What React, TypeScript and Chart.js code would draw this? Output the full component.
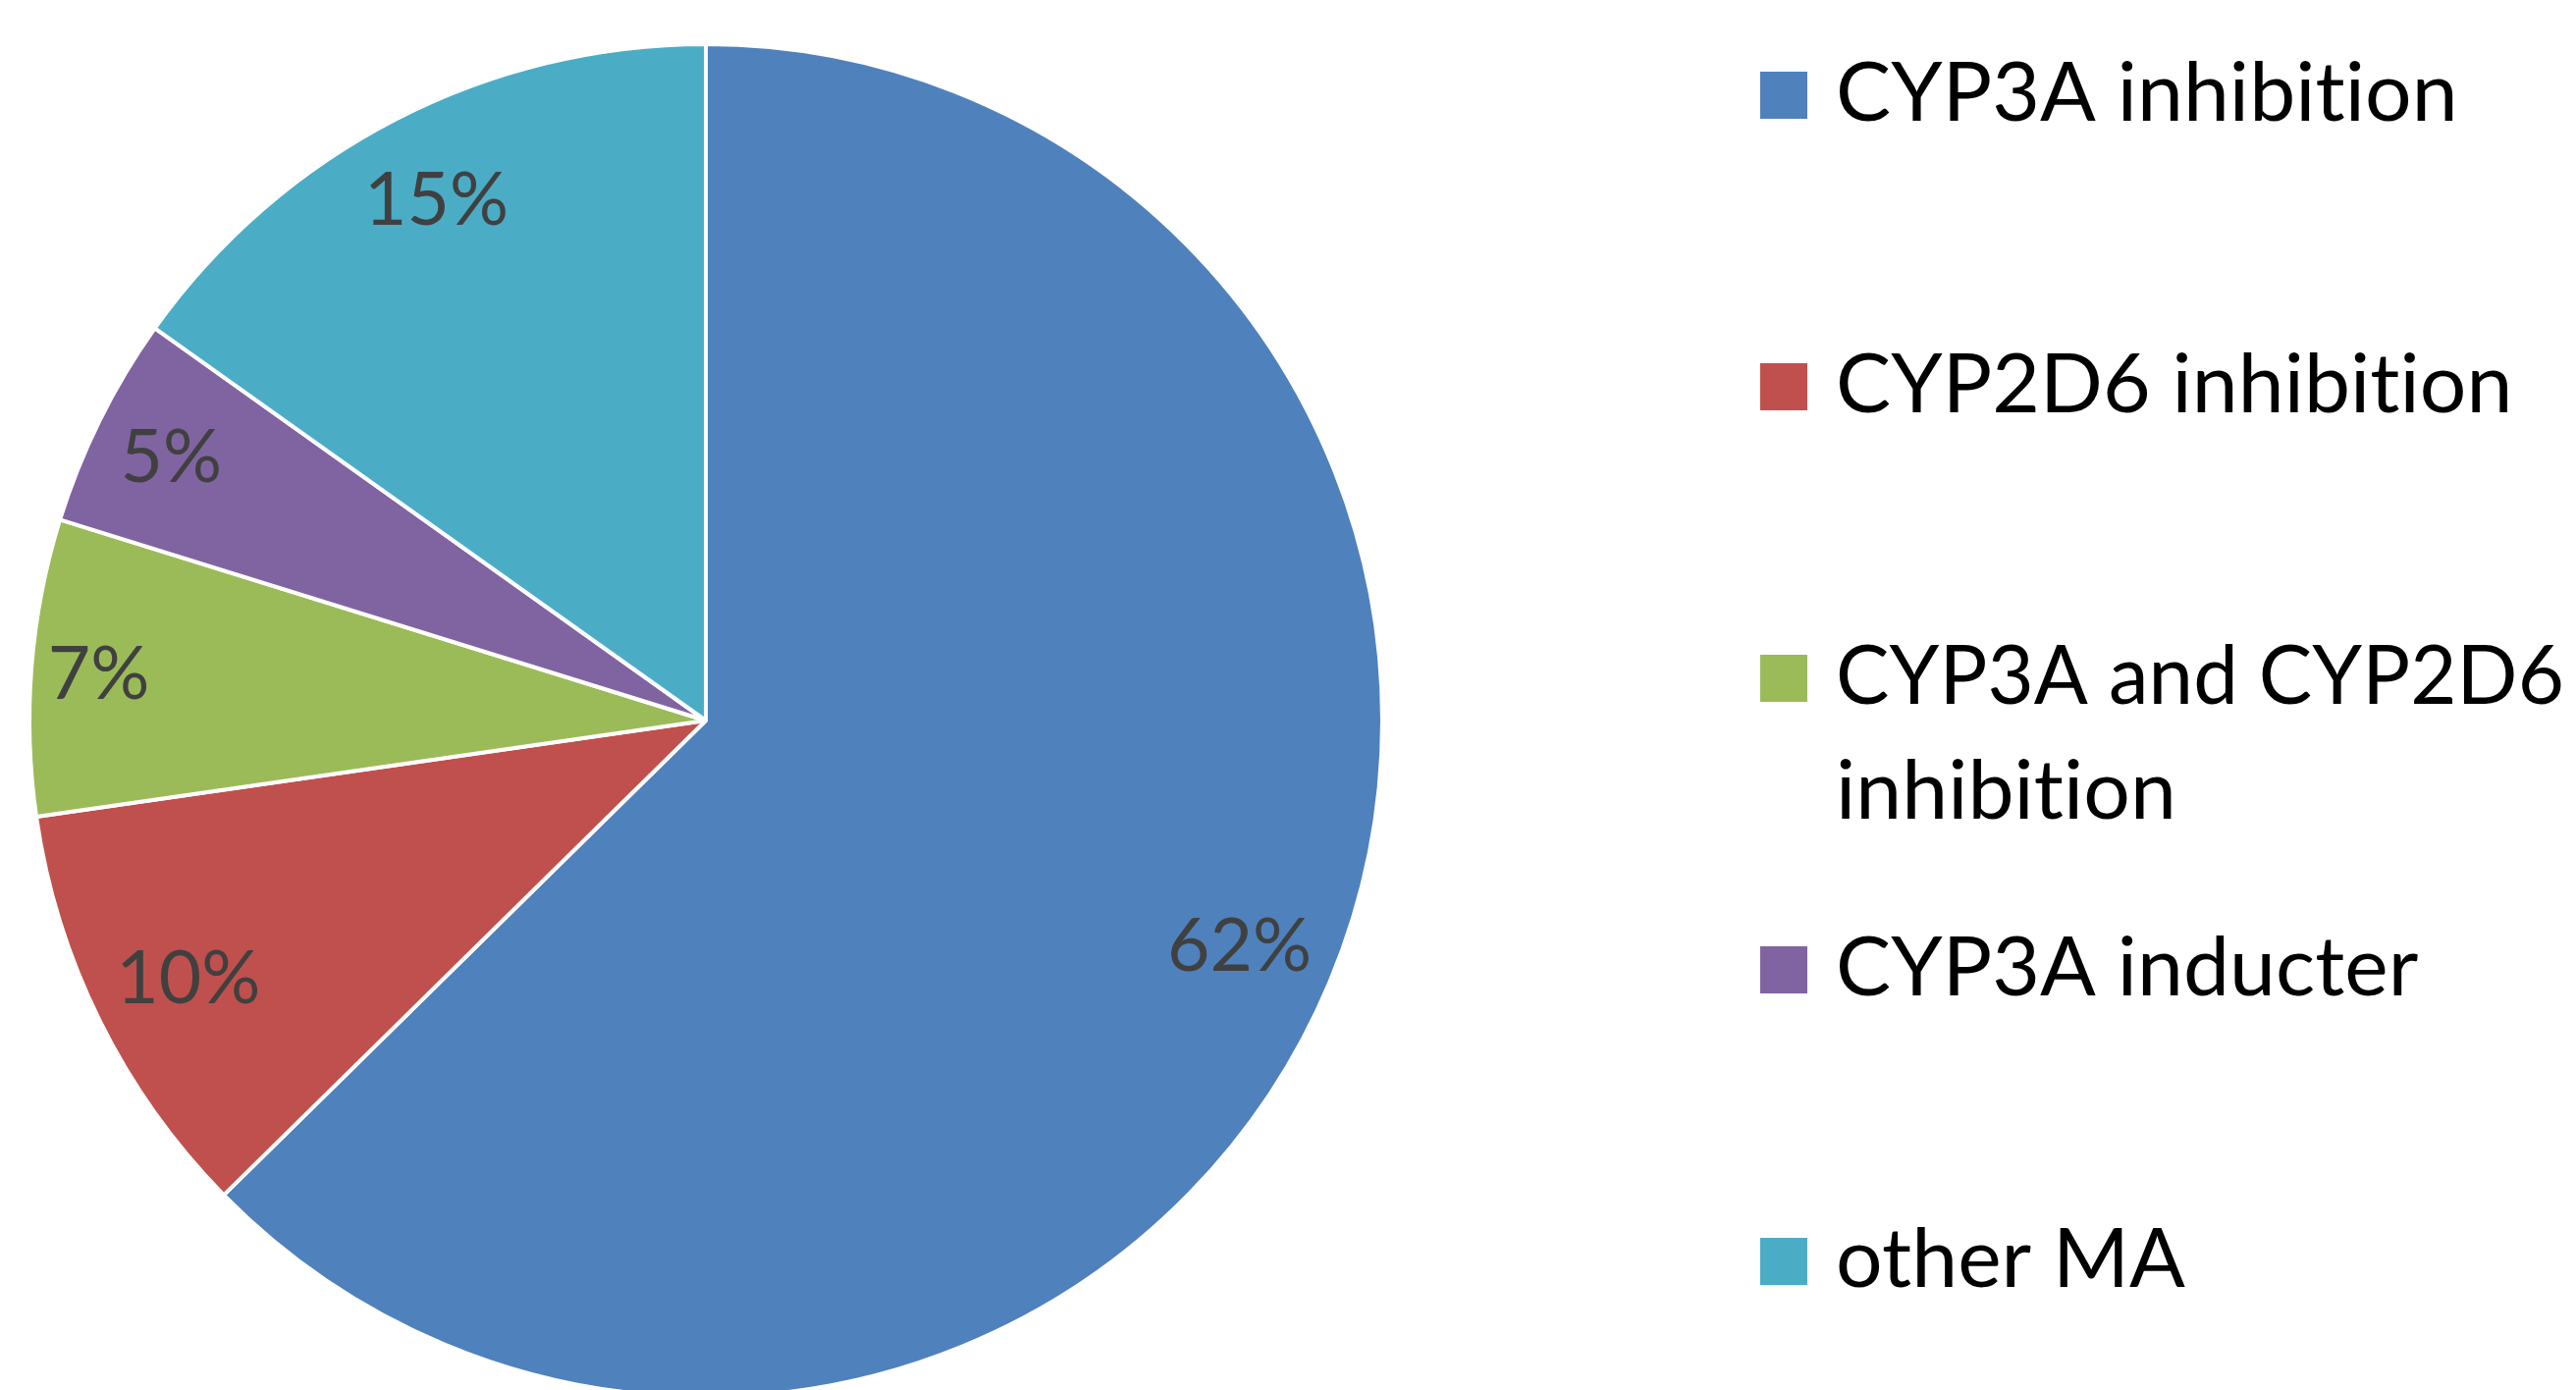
import React, { useEffect, useRef } from 'react';
import { Chart, registerables } from 'chart.js';

Chart.register(...registerables);

const categories = [
  'CYP3A inhibition',
  'CYP2D6 inhibition',
  'CYP3A and CYP2D6 inhibition',
  'CYP3A inducter',
  'other MA',
];
const shares = [62, 10, 7, 5, 15];
const colors = ['#4F81BD', '#C0504D', '#9BBB59', '#8064A2', '#4BACC6'];

const W = 2624;
const H = 1416;
const FONT = 'Lato, "Open Sans", sans-serif';
const LABEL_SIZE = 75;
const LEGEND_SIZE = 84;

export default function App() {
  const ref = useRef<HTMLCanvasElement>(null);

  useEffect(() => {
    document.body.style.margin = '0';
    document.body.style.overflow = 'hidden';
    const canvas = ref.current;
    if (!canvas) return;

    const labelPlugin = {
      id: 'pieLabels',
      afterDatasetsDraw(chart: any) {
        const ctx = chart.ctx;
        const meta = chart.getDatasetMeta(0);
        ctx.save();
        ctx.font = `${LABEL_SIZE}px ${FONT}`;
        ctx.fillStyle = '#404040';
        ctx.textAlign = 'center';
        ctx.textBaseline = 'alphabetic';
        meta.data.forEach((arc: any, i: number) => {
          const p = arc.getProps(['x', 'y', 'startAngle', 'endAngle', 'outerRadius'], true);
          const mid = (p.startAngle + p.endAngle) / 2;
          const text = `${shares[i]}%`;
          const hw = ctx.measureText(text).width / 2;
          const hh = 49;
          const ux = Math.cos(mid);
          const uy = Math.sin(mid);
          const d = p.outerRadius - 13 - (hw * Math.abs(ux) + hh * Math.abs(uy));
          const cx = p.x + ux * d;
          const cy = p.y + uy * d;
          const capH = LABEL_SIZE * 0.72;
          ctx.fillText(text, cx, cy + capH / 2);
        });
        ctx.restore();
      },
    };

    const legendPlugin = {
      id: 'sideLegend',
      afterDraw(chart: any) {
        const ctx = chart.ctx;
        ctx.save();
        ctx.font = `${LEGEND_SIZE}px ${FONT}`;
        try {
          (ctx as any).letterSpacing = '0.1px';
        } catch (e) {
          /* ignore */
        }
        ctx.textAlign = 'left';
        ctx.textBaseline = 'alphabetic';
        const textX = 1870;
        const wrapW = 800;
        const drawMax = W - textX - 12;
        categories.forEach((c, i) => {
          const base = 123 + 297 * i;
          ctx.fillStyle = colors[i];
          ctx.fillRect(1793, base - 50, 48, 48);
          const words = c.split(' ');
          const lines: string[] = [];
          let cur = '';
          words.forEach((w) => {
            const t = cur ? cur + ' ' + w : w;
            if (cur && ctx.measureText(t).width > wrapW) {
              lines.push(cur);
              cur = w;
            } else {
              cur = t;
            }
          });
          if (cur) lines.push(cur);
          ctx.fillStyle = '#000000';
          lines.forEach((ln, j) => ctx.fillText(ln, textX, base + j * 117, drawMax));
        });
        ctx.restore();
      },
    };

    const chart = new Chart(canvas, {
      type: 'pie',
      data: {
        labels: categories,
        datasets: [
          {
            data: shares,
            backgroundColor: colors,
            borderColor: '#FFFFFF',
            borderWidth: 4,
            radius: 689,
            clip: false,
          } as any,
        ],
      },
      options: {
        responsive: false,
        animation: false,
        layout: { padding: { left: 32, top: 52, right: W - 1406, bottom: 0 } },
        plugins: {
          legend: { display: false },
          tooltip: { enabled: false },
        },
      },
      plugins: [labelPlugin, legendPlugin],
    });
    return () => chart.destroy();
  }, []);

  return (
    <div style={{ width: W, height: H, overflow: 'hidden', background: '#FFFFFF' }}>
      <canvas ref={ref} width={W} height={H} style={{ display: 'block' }} />
    </div>
  );
}
